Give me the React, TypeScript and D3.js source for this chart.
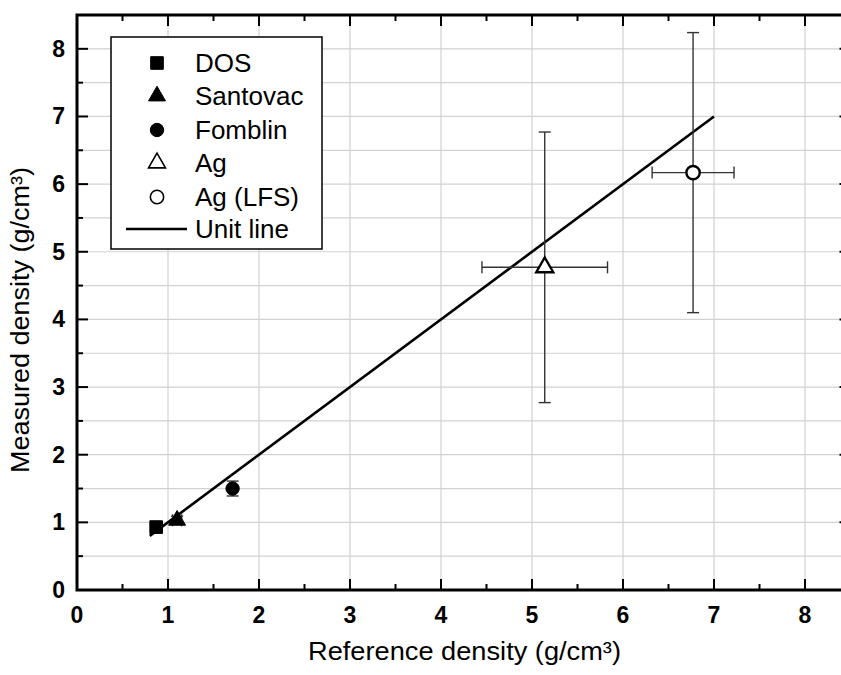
import React, { useEffect, useRef } from 'react';
import * as d3 from 'd3';

// measured points: reference density (x), measured density (y) with errors
const names = ['DOS', 'Santovac', 'Fomblin', 'Ag', 'Ag (LFS)'];
const refDensity = [0.87, 1.1, 1.71, 5.14, 6.77];
const measDensity = [0.93, 1.03, 1.5, 4.77, 6.17];
const refErr = [0, 0.05, 0, 0.69, 0.45];
const measErr = [0, 0.06, 0.11, 2.0, 2.07];
const symbols = ['square', 'triangle', 'circle', 'triangle-open', 'circle-open'];
const unitLine = [0.8, 7];
const xTicks = [0, 1, 2, 3, 4, 5, 6, 7, 8];
const yTicks = [0, 1, 2, 3, 4, 5, 6, 7, 8];

function App() {
  const ref = useRef<SVGSVGElement>(null);

  useEffect(() => {
    const width = 841;
    const height = 675;
    const m = { left: 77, top: 15, bottom: 85 };

    const svg = d3.select(ref.current);
    svg.selectAll('*').remove();
    svg.attr('width', width).attr('height', height);

    const x = d3.scaleLinear().domain([0, 8.5]).range([m.left, m.left + 8.5 * 91]);
    const y = d3.scaleLinear().domain([0, 8.5]).range([height - m.bottom, m.top]);
    const x0 = x(0), x1 = x(8.5), y0 = y(0), y1 = y(8.5);

    // grid
    const grid = svg.append('g').attr('stroke', '#d2d2d2').attr('stroke-width', 1.2);
    d3.range(1, 9).forEach(v => {
      grid.append('line').attr('x1', x(v)).attr('x2', x(v)).attr('y1', y0).attr('y2', y1);
    });
    d3.range(0.5, 8.5, 0.5).forEach(v => {
      grid.append('line').attr('x1', x0).attr('x2', x1).attr('y1', y(v)).attr('y2', y(v));
    });

    // frame + inward ticks
    const axes = svg.append('g').attr('stroke', '#000').attr('stroke-width', 2);
    const tick = (xa: number, ya: number, xb: number, yb: number) =>
      axes.append('line').attr('x1', xa).attr('y1', ya).attr('x2', xb).attr('y2', yb);
    xTicks.forEach(v => {
      tick(x(v), y0, x(v), y0 - 11);
      tick(x(v), y1, x(v), y1 + 11);
    });
    d3.range(0.5, 8.5, 1).forEach(v => {
      tick(x(v), y0, x(v), y0 - 6);
      tick(x(v), y1, x(v), y1 + 6);
    });
    yTicks.forEach(v => {
      tick(x0, y(v), x0 + 11, y(v));
      tick(x1, y(v), x1 - 11, y(v));
    });
    d3.range(0.5, 8.5, 1).forEach(v => {
      tick(x0, y(v), x0 + 6, y(v));
      tick(x1, y(v), x1 - 6, y(v));
    });
    axes.append('rect').attr('x', x0).attr('y', y1).attr('width', x1 - x0).attr('height', y0 - y1)
      .attr('fill', 'none').attr('stroke-width', 3);

    // tick labels
    const lab = svg.append('g').attr('font-family', 'Liberation Sans, Arial')
      .attr('font-weight', 'bold').attr('font-size', 23).attr('fill', '#000');
    xTicks.forEach(v => {
      lab.append('text').attr('x', x(v)).attr('y', y0 + 33).attr('text-anchor', 'middle').text(v);
    });
    yTicks.forEach(v => {
      lab.append('text').attr('x', x0 - 12).attr('y', y(v) + 8).attr('text-anchor', 'end').text(v);
    });

    // axis titles
    svg.append('text').attr('x', 308).attr('y', 660)
      .attr('textLength', 313).attr('lengthAdjust', 'spacingAndGlyphs')
      .attr('font-family', 'Liberation Sans, Arial').attr('font-size', 25).text('Reference density (g/cm³)');
    svg.append('text').attr('transform', 'translate(29,473) rotate(-90)')
      .attr('textLength', 306).attr('lengthAdjust', 'spacingAndGlyphs')
      .attr('font-family', 'Liberation Sans, Arial').attr('font-size', 25).text('Measured density (g/cm³)');

    // unit line
    svg.append('line').attr('x1', x(unitLine[0])).attr('y1', y(unitLine[0]))
      .attr('x2', x(unitLine[1])).attr('y2', y(unitLine[1]))
      .attr('stroke', '#000').attr('stroke-width', 2.6);

    // error bars
    const eb = svg.append('g').attr('stroke', '#333').attr('stroke-width', 1.4);
    names.forEach((_, i) => {
      const cx = x(refDensity[i]), cy = y(measDensity[i]);
      if (measErr[i] > 0) {
        const ya = y(measDensity[i] - measErr[i]), yb = y(measDensity[i] + measErr[i]);
        eb.append('line').attr('x1', cx).attr('x2', cx).attr('y1', ya).attr('y2', yb);
        eb.append('line').attr('x1', cx - 6).attr('x2', cx + 6).attr('y1', ya).attr('y2', ya);
        eb.append('line').attr('x1', cx - 6).attr('x2', cx + 6).attr('y1', yb).attr('y2', yb);
      }
      if (refErr[i] > 0) {
        const xa = x(refDensity[i] - refErr[i]), xb = x(refDensity[i] + refErr[i]);
        eb.append('line').attr('x1', xa).attr('x2', xb).attr('y1', cy).attr('y2', cy);
        eb.append('line').attr('x1', xa).attr('x2', xa).attr('y1', cy - 6).attr('y2', cy + 6);
        eb.append('line').attr('x1', xb).attr('x2', xb).attr('y1', cy - 6).attr('y2', cy + 6);
      }
    });

    const drawSymbol = (g: any, kind: string, cx: number, cy: number, sw: number) => {
      const open = kind.endsWith('open');
      const base = kind.replace('-open', '');
      const type = base === 'square' ? d3.symbolSquare : base === 'triangle' ? d3.symbolTriangle : d3.symbolCircle;
      const size = base === 'square' ? 160 : base === 'triangle' ? 125 : 140;
      g.append('path').attr('d', d3.symbol().type(type).size(size)())
        .attr('transform', `translate(${cx},${cy})`)
        .attr('fill', open ? '#fff' : '#000').attr('stroke', '#000').attr('stroke-width', open ? sw : 1);
    };

    const marks = svg.append('g');
    names.forEach((_, i) => {
      drawSymbol(marks, symbols[i], x(refDensity[i]), y(measDensity[i]), 2.4);
    });

    // legend
    const lg = svg.append('g');
    lg.append('rect').attr('x', 111).attr('y', 37).attr('width', 211).attr('height', 212)
      .attr('fill', '#fff').attr('stroke', '#000').attr('stroke-width', 1.5);
    const rowY = [63, 96, 130, 163, 197, 229];
    names.forEach((n, i) => {
      drawSymbol(lg, symbols[i], 157, rowY[i], 1.6);
      lg.append('text').attr('x', 195).attr('y', rowY[i] + 9).attr('font-family', 'Liberation Sans, Arial')
        .attr('font-size', 26).text(n);
    });
    lg.append('line').attr('x1', 126).attr('x2', 187).attr('y1', rowY[5]).attr('y2', rowY[5])
      .attr('stroke', '#000').attr('stroke-width', 2.6);
    lg.append('text').attr('x', 195).attr('y', rowY[5] + 9).attr('font-family', 'Liberation Sans, Arial')
      .attr('font-size', 26).text('Unit line');
  }, []);

  return (
    <svg ref={ref} style={{ position: 'absolute', left: 0, top: 0, background: '#fff' }}></svg>
  );
}

export default App;
